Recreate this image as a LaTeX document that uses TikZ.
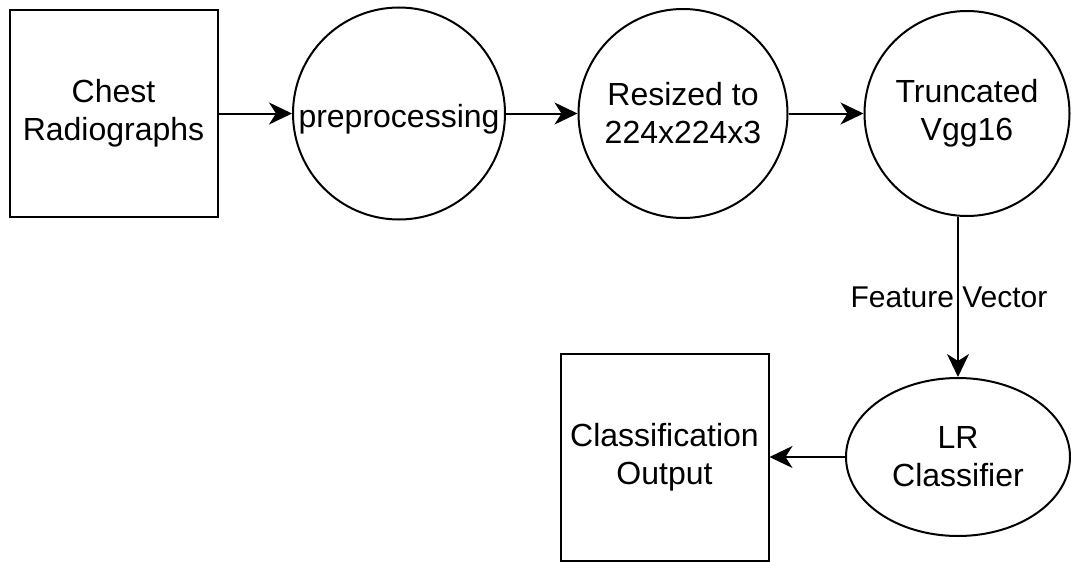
\documentclass[tikz,border=0pt]{standalone}
\usepackage{fontspec}
\setmainfont{Liberation Sans}
\usetikzlibrary{arrows.meta,shapes.geometric}

\begin{document}
\begin{tikzpicture}[x=1pt, y=-1pt, line width=2pt,
  font=\fontsize{32}{38}\selectfont,
  box/.style={draw, minimum width=208pt, minimum height=207pt, align=center, inner sep=0pt},
  blob/.style={draw, circle, minimum size=#1, align=center, inner sep=0pt},
  oval/.style={draw, ellipse, minimum width=224pt, minimum height=158pt, align=center, inner sep=0pt},
  flow/.style={-{Stealth[length=23pt, width=22pt, inset=7pt]}}]

\useasboundingbox (0,0) rectangle (1071,562);

\node[box] (chest) at (113.5,113.5) {Chest\\Radiographs};
\node[blob=212pt] (pre) at (399,113.5) {\raisebox{-14pt}[0pt][0pt]{preprocessing}};
\node[blob=209pt] (res) at (683,113.5) {Resized to\\224x224x3};
\node[blob=205pt] (trunc) at (967,113.5) {Truncated\\Vgg16};
\node[oval] (lr) at (958,457) {LR\\Classifier};
\node[box] (out) at (664.5,457) {Classification\\Output};

\foreach \a/\b in {chest/pre, pre/res, res/trunc} {\draw[flow] (\a) -- (\b);}
\draw[flow] (trunc.south -| lr.north) -- node[midway, xshift=-9pt, font=\fontsize{30}{36}\selectfont] {Feature Vector} (lr.north);
\draw[flow] (lr) -- (out);

\end{tikzpicture}
\end{document}
